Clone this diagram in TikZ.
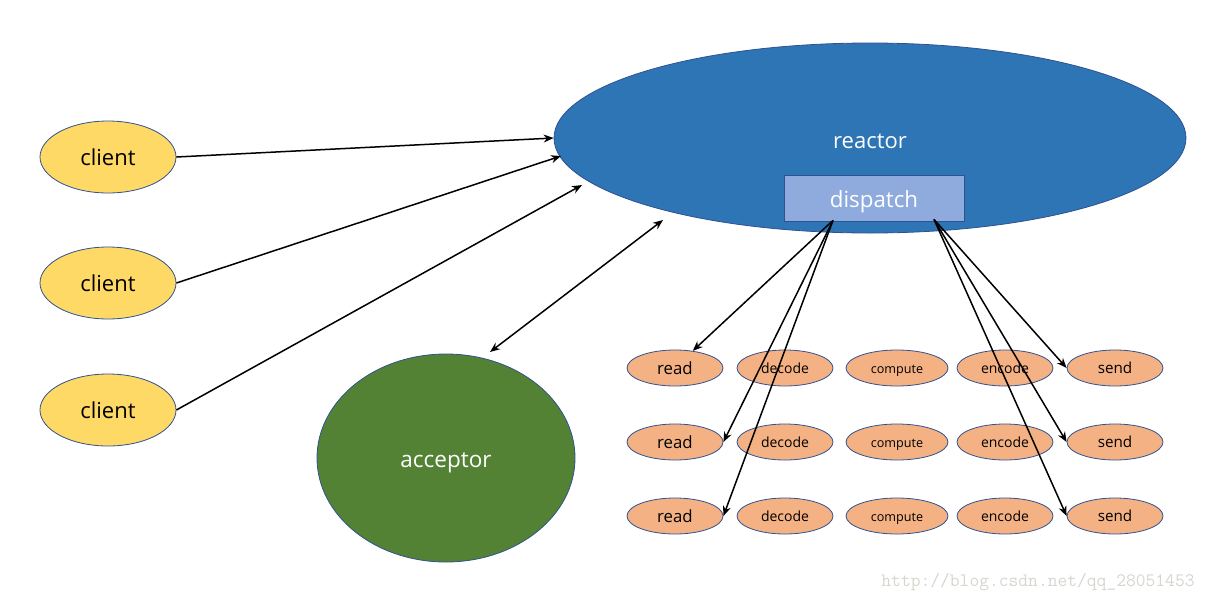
\documentclass[tikz,border=0pt]{standalone}
\usepackage{fontspec}
\setmainfont{Open Sans}
\usepackage{tikz}
\usetikzlibrary{calc,shapes.geometric,arrows.meta}

\definecolor{clientYellow}{HTML}{FFD966}
\definecolor{reactorBlue}{HTML}{2E75B6}
\definecolor{dispatchBlue}{HTML}{8FAADC}
\definecolor{acceptorGreen}{HTML}{548235}
\definecolor{taskOrange}{HTML}{F4B183}
\definecolor{edgeBlue}{HTML}{2F528F}
\definecolor{markGray}{HTML}{D6D6D0}

\begin{document}
\begin{tikzpicture}[x=1pt,y=-1pt,
	client/.style={ellipse,draw=edgeBlue,line width=0.8pt,fill=clientYellow,minimum width=136pt,minimum height=72pt,inner sep=0pt,font=\fontsize{22}{26}\selectfont},
	task/.style={ellipse,draw=edgeBlue,line width=0.8pt,fill=taskOrange,minimum width=96pt,minimum height=36pt,inner sep=0pt},
	link/.style={line width=1.5pt,-{Stealth[length=10pt,width=8pt]}}]
	\newcommand{\rowA}{368}
	\newcommand{\rowB}{442}
	\newcommand{\rowC}{516}
	\newcommand{\readSize}{\fontsize{16.8}{19}\selectfont}
	\newcommand{\codeSize}{\fontsize{14}{17}\selectfont}
	\newcommand{\computeSize}{\fontsize{12.6}{15}\selectfont}
	\newcommand{\sendSize}{\fontsize{15.2}{18}\selectfont}

	\useasboundingbox (0,0) rectangle (1210,603);

	% clients
	\node[client] (client_one) at (108,157) {client};
	\node[client] (client_two) at (108,283) {client};
	\node[client] (client_three) at (108,410) {client};

	% reactor and acceptor
	\node[ellipse,draw=edgeBlue,line width=0.8pt,fill=reactorBlue,minimum width=632pt,minimum height=190pt,inner sep=0pt] (reactor) at (870,138) {};
	\node[text=white,font=\fontsize{22}{26}\selectfont] (reactor_label) at (870,141) {reactor};
	\node[draw=edgeBlue,line width=0.8pt,fill=dispatchBlue,minimum width=180pt,minimum height=46pt,inner sep=0pt,
		text=white,text height=19pt,text depth=0pt,font=\fontsize{22.3}{26}\selectfont] (dispatch) at (874,198) {dispatch};
	\node[ellipse,draw=edgeBlue,line width=0.8pt,fill=acceptorGreen,minimum width=258pt,minimum height=208pt,inner sep=0pt,
		text=white,text height=19.5pt,text depth=0pt,font=\fontsize{22.5}{26}\selectfont] (acceptor) at (446,458) {acceptor};

	% handlers
	\node[task,font=\readSize] (read_one) at (675,\rowA) {read};
	\node[task,font=\codeSize] (decode_one) at (785,\rowA) {decode};
	\node[task,font=\computeSize,minimum width=102pt,text height=10pt,text depth=0pt] (compute_one) at (897,\rowA) {compute};
	\node[task,font=\codeSize] (encode_one) at (1005,\rowA) {encode};
	\node[task,font=\sendSize] (send_one) at (1115,\rowA) {send};

	\node[task,font=\readSize] (read_two) at (675,\rowB) {read};
	\node[task,font=\codeSize] (decode_two) at (785,\rowB) {decode};
	\node[task,font=\computeSize,minimum width=102pt,text height=10pt,text depth=0pt] (compute_two) at (897,\rowB) {compute};
	\node[task,font=\codeSize] (encode_two) at (1005,\rowB) {encode};
	\node[task,font=\sendSize] (send_two) at (1115,\rowB) {send};

	\node[task,font=\readSize] (read_three) at (675,\rowC) {read};
	\node[task,font=\codeSize] (decode_three) at (785,\rowC) {decode};
	\node[task,font=\computeSize,minimum width=102pt,text height=10pt,text depth=0pt] (compute_three) at (897,\rowC) {compute};
	\node[task,font=\codeSize] (encode_three) at (1005,\rowC) {encode};
	\node[task,font=\sendSize] (send_three) at (1115,\rowC) {send};

	% connect clients
	\coordinate (reactor_in_two) at (561,156);
	\coordinate (reactor_in_three) at (582,185);
	\coordinate (reactor_low) at (663,220);
	\coordinate (acceptor_top) at (490,352);
	\draw[link] (client_one.east) -- (reactor.west);
	\draw[link] (client_two.east) -- (reactor_in_two);
	\draw[link] (client_three.east) -- (reactor_in_three);
	\draw[link,{Stealth[length=10pt,width=8pt]}-{Stealth[length=10pt,width=8pt]}] (acceptor_top) -- (reactor_low);

	% dispatch to handlers
	\coordinate (disp_left) at ($(dispatch.south)+(-41,-1)$);
	\coordinate (disp_right) at ($(dispatch.south)+(60,-2)$);
	\draw[link] (disp_left) -- (read_one.44);
	\draw[link] (disp_left) -- (read_two.east);
	\draw[link] (disp_left) -- (read_three.east);
	\draw[link] (disp_right) -- (send_one.west);
	\draw[link] (disp_right) -- (send_two.west);
	\draw[link] (disp_right) -- (send_three.west);

	% watermark
	\node[text=markGray,font=\ttfamily\fontsize{19}{22}\selectfont] (watermark) at (1038,582) {http://blog.csdn.net/qq\_28051453};
\end{tikzpicture}
\end{document}
